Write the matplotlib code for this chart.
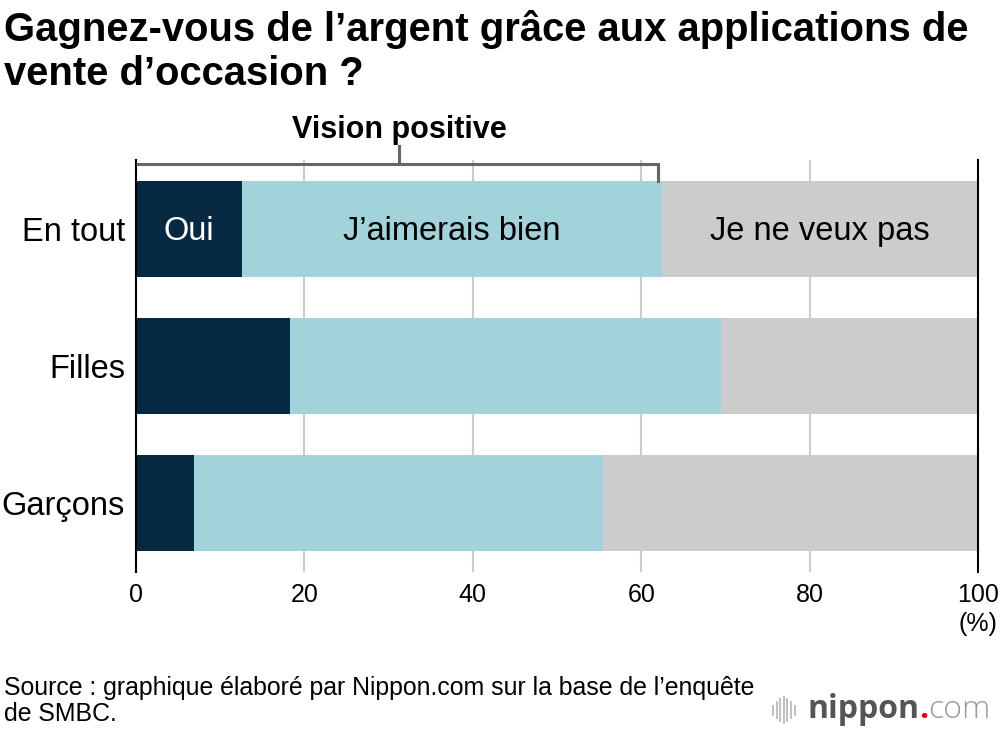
import matplotlib.pyplot as plt
from matplotlib.lines import Line2D

plt.rcParams['font.family'] = ['Liberation Sans', 'DejaVu Sans']

groups = ["En tout", "Filles", "Garçons"]
oui = [12.6, 18.3, 6.9]
aimerais = [49.9, 51.2, 48.6]
veux_pas = [37.5, 30.5, 44.5]
series_names = ["Oui", "J’aimerais bien", "Je ne veux pas"]
colors = ["#062841", "#a2d3da", "#cccccc"]
ticks = [0, 20, 40, 60, 80, 100]

fig = plt.figure(figsize=(10, 7.34), dpi=100)
ax = fig.add_axes([0.136, 0.2207, 0.842, 0.5613])

y = list(range(len(groups)))
left = [0] * len(groups)
for vals, c in zip([oui, aimerais, veux_pas], colors):
    ax.barh(y, vals, left=left, height=0.7, color=c, zorder=2)
    left = [l + v for l, v in zip(left, vals)]

# labels inside the first bar
lefts = [0, oui[0], oui[0] + aimerais[0]]
for name, l, w, tc in zip(series_names, lefts, [oui[0], aimerais[0], veux_pas[0]],
                          ["white", "black", "black"]):
    ax.text(l + w / 2, 0.02, name, ha="center", va="center", fontsize=23.5, color=tc, zorder=3)

ax.set_xlim(0, 100)
ax.set_ylim(2.5, -0.5)
ax.set_yticks(y)
ax.set_yticklabels(groups, fontsize=23.5)
ax.set_xticks(ticks)
ax.set_xticklabels([str(t) for t in ticks], fontsize=18)
ax.tick_params(length=0)
ax.tick_params(axis="x", pad=8)
ax.tick_params(axis="y", pad=8)
for t in ticks[1:-1]:
    ax.axvline(t, color="#cccccc", lw=1.5, zorder=1)
for s in ["top", "bottom"]:
    ax.spines[s].set_visible(False)
for s in ["left", "right"]:
    ax.spines[s].set_color("black")
    ax.spines[s].set_linewidth(1.5)
    ax.spines[s].set_zorder(4)
ax.text(100, 2.88, "(%)", fontsize=18, ha="center", va="center", clip_on=False)

# bracket "Vision positive"
pos = oui[0] + aimerais[0]
ax.plot([0, pos - 0.5], [-0.47, -0.47], color="#666666", lw=2.2, clip_on=False, zorder=5,
        solid_capstyle="butt")
ax.plot([pos - 0.5, pos - 0.5], [-0.47, -0.35], color="#666666", lw=2.2, clip_on=False, zorder=5)
ax.plot([pos / 2, pos / 2], [-0.47, -0.6], color="#666666", lw=2.2, clip_on=False, zorder=5)
ax.text(pos / 2, -0.72, "Vision positive", ha="center", va="center", fontsize=22,
        fontweight="bold")

fig.text(0.004, 0.987, "Gagnez-vous de l’argent grâce aux applications de\nvente d’occasion ?",
         ha="left", va="top", fontsize=28.8, fontweight="bold", linespacing=1.2)
fig.text(0.004, 0.045, "Source : graphique élaboré par Nippon.com sur la base de l’enquête\nde SMBC.",
         ha="left", va="center", fontsize=17.9, linespacing=1.1)

# logo
for i, h in enumerate([0.35, 0.6, 0.85, 1.0, 0.85, 0.6, 0.35]):
    xx = 0.773 + i * 0.0036
    fig.add_artist(Line2D([xx, xx], [0.0325 - 0.018 * h, 0.0325 + 0.018 * h],
                          color="#bbbbbb", lw=1.3))
t1 = fig.text(0.807, 0.022, "nippon", fontsize=23, fontweight="bold", color="#555555",
              ha="left", va="baseline", family="Open Sans")
t2 = ax.annotate(".", xy=(1, 0), xycoords=t1, xytext=(0, 0), textcoords="offset points",
                 va="bottom", fontsize=23, fontweight="bold", color="#e60012",
                 family="Open Sans", annotation_clip=False)
ax.annotate("com", xy=(1, 0), xycoords=t2, xytext=(0, 0), textcoords="offset points",
            va="bottom", fontsize=23, color="#999999", family="Open Sans",
            fontweight="light", annotation_clip=False)

fig.savefig("out.png", dpi=100)
